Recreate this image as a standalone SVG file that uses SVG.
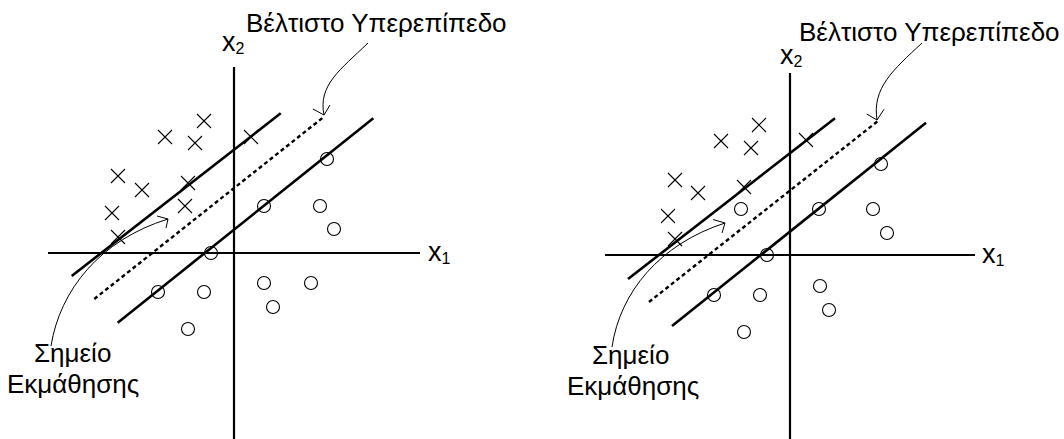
<svg xmlns="http://www.w3.org/2000/svg" xmlns:xlink="http://www.w3.org/1999/xlink" width="1064" height="439" viewBox="0 0 1064 439">
<style>
.axis{stroke:#000;stroke-width:2.2;fill:none}
.hp{stroke:#000;stroke-width:2.6;fill:none;stroke-linecap:butt}
.dash{stroke:#000;stroke-width:2.4;fill:none;stroke-dasharray:4 3}
.thin{stroke:#000;stroke-width:1;fill:none}
.pt{stroke:#000;stroke-width:1.1;fill:none}
text{font-family:"Liberation Sans",Arial,sans-serif;fill:#000}
.lbl{font-size:26px}
.ax{font-size:27px}
.sub{font-size:16px}
</style>
<defs>
<g id="cross"><path class="pt" d="M-7,-7L7,7M-7,7L7,-7"/></g>
<g id="circ"><circle class="pt" r="6.5"/></g>
</defs>

<g id="left-panel">
  <g id="left-axes">
    <line class="axis" x1="234" y1="67" x2="234" y2="439"/>
    <line class="axis" x1="48" y1="253" x2="420" y2="253"/>
    <text class="ax" x="428" y="261">x<tspan class="sub" dy="3">1</tspan></text>
    <text class="ax" x="222" y="51">x<tspan class="sub" dy="3">2</tspan></text>
  </g>
  <g id="left-hyperplanes">
    <line class="hp" x1="71.7" y1="276" x2="280.7" y2="113.3"/>
    <line class="dash" x1="94.3" y1="299" x2="324" y2="116.7"/>
    <line class="hp" x1="117.7" y1="322.7" x2="373.3" y2="118.3"/>
  </g>
  <g id="left-crosses">
    <use xlink:href="#cross" x="204" y="121"/>
    <use xlink:href="#cross" x="165" y="137"/>
    <use xlink:href="#cross" x="195" y="143"/>
    <use xlink:href="#cross" x="251" y="137"/>
    <use xlink:href="#cross" x="118" y="176"/>
    <use xlink:href="#cross" x="142" y="190"/>
    <use xlink:href="#cross" x="188" y="183"/>
    <use xlink:href="#cross" x="185" y="206"/>
    <use xlink:href="#cross" x="112" y="213"/>
    <use xlink:href="#cross" x="118" y="237"/>
  </g>
  <g id="left-circles">
    <use xlink:href="#circ" x="327" y="159"/>
    <use xlink:href="#circ" x="264" y="206"/>
    <use xlink:href="#circ" x="320" y="206"/>
    <use xlink:href="#circ" x="334" y="229"/>
    <use xlink:href="#circ" x="211" y="253"/>
    <use xlink:href="#circ" x="158" y="292"/>
    <use xlink:href="#circ" x="204" y="292"/>
    <use xlink:href="#circ" x="188" y="329"/>
    <use xlink:href="#circ" x="264" y="283"/>
    <use xlink:href="#circ" x="311" y="283"/>
    <use xlink:href="#circ" x="273" y="307"/>
  </g>
  <g id="left-labels">
    <text class="lbl" x="246" y="32">Βέλτιστο Υπερεπίπεδο</text>
    <text class="lbl" x="34" y="362">Σημείο</text>
    <text class="lbl" x="7" y="393">Εκμάθησης</text>
  </g>
  <g id="left-connectors">
    <path class="thin" d="M368,43 C340,70 318,85 324,115"/>
    <polyline class="thin" points="313,109 324,115 330,105"/>
    <path class="thin" d="M51,346 C60,290 100,240 168,219"/>
    <polyline class="thin" points="157,216 168,219 166,228"/>
  </g>
</g>

<g id="right-panel">
  <g id="right-axes">
    <line class="axis" x1="790" y1="73" x2="790" y2="439"/>
    <line class="axis" x1="605" y1="255" x2="975" y2="255"/>
    <text class="ax" x="982" y="263">x<tspan class="sub" dy="3">1</tspan></text>
    <text class="ax" x="780" y="64">x<tspan class="sub" dy="3">2</tspan></text>
  </g>
  <g id="right-hyperplanes">
    <line class="hp" x1="628" y1="279" x2="835" y2="118.3"/>
    <line class="dash" x1="649" y1="302" x2="878.3" y2="120.7"/>
    <line class="hp" x1="672" y1="326" x2="926" y2="122.7"/>
  </g>
  <g id="right-crosses">
    <use xlink:href="#cross" x="759" y="125"/>
    <use xlink:href="#cross" x="721" y="141"/>
    <use xlink:href="#cross" x="751" y="148"/>
    <use xlink:href="#cross" x="806" y="140"/>
    <use xlink:href="#cross" x="675" y="180"/>
    <use xlink:href="#cross" x="698" y="193"/>
    <use xlink:href="#cross" x="744" y="187"/>
    <use xlink:href="#cross" x="668" y="216"/>
    <use xlink:href="#cross" x="675" y="239"/>
  </g>
  <g id="right-circles">
    <use xlink:href="#circ" x="881" y="164"/>
    <use xlink:href="#circ" x="819" y="209"/>
    <use xlink:href="#circ" x="873" y="209"/>
    <use xlink:href="#circ" x="887" y="233"/>
    <use xlink:href="#circ" x="741" y="209"/>
    <use xlink:href="#circ" x="767" y="255"/>
    <use xlink:href="#circ" x="714" y="295"/>
    <use xlink:href="#circ" x="760" y="295"/>
    <use xlink:href="#circ" x="744" y="332"/>
    <use xlink:href="#circ" x="820" y="286"/>
    <use xlink:href="#circ" x="829" y="310"/>
  </g>
  <g id="right-labels">
    <text class="lbl" x="799" y="41">Βέλτιστο Υπερεπίπεδο</text>
    <text class="lbl" x="592" y="364">Σημείο</text>
    <text class="lbl" x="567" y="395">Εκμάθησης</text>
  </g>
  <g id="right-connectors">
    <path class="thin" d="M922,43 C893,70 872,88 877,120"/>
    <polyline class="thin" points="866.7,114 877,120 884,109.3"/>
    <path class="thin" d="M612,347 C620,292 660,244 725,223"/>
    <polyline class="thin" points="713,219.5 725,223 722,233"/>
  </g>
</g>
</svg>
